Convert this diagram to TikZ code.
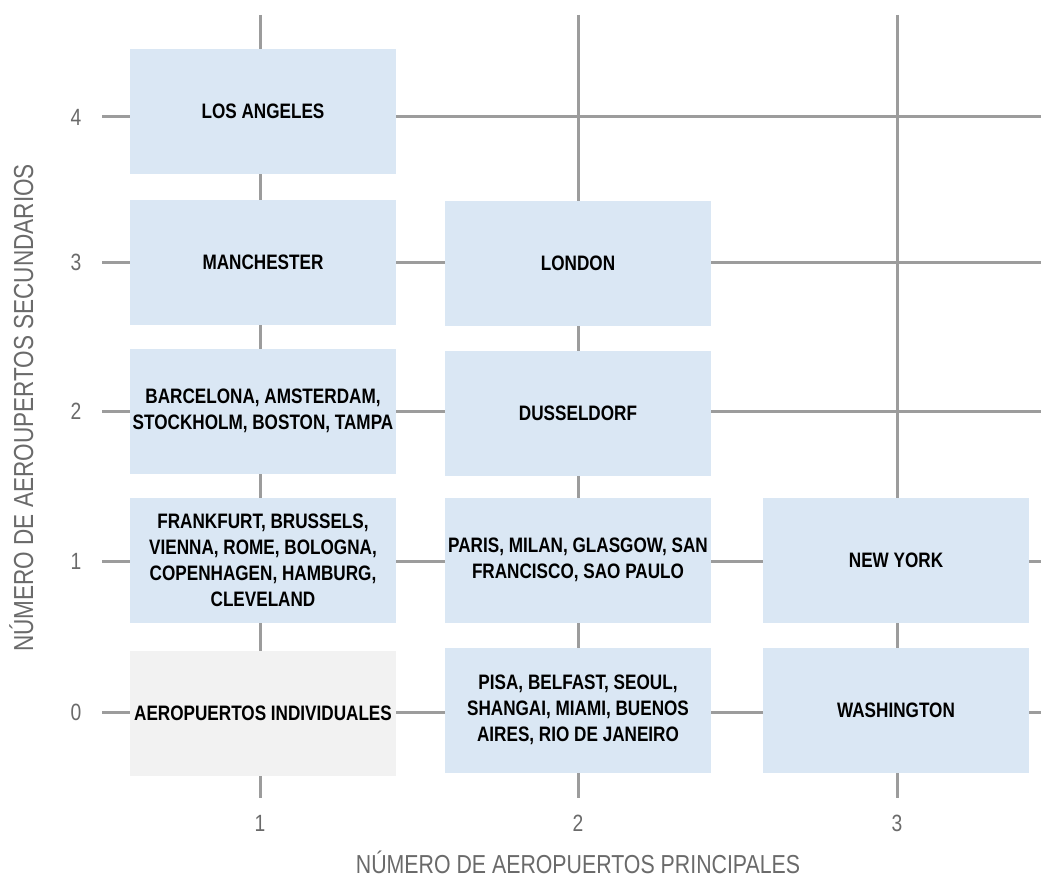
\documentclass[tikz,border=0pt]{standalone}
\usepackage{fontspec}
\setmainfont{Liberation Sans}
\newfontfamily\narrowfont[FakeStretch=0.82]{Liberation Sans}
\definecolor{boxblue}{HTML}{DAE7F4}
\definecolor{boxgray}{HTML}{F2F2F2}
\definecolor{gridgray}{HTML}{9C9C9C}
\definecolor{labelgray}{HTML}{6A6A6A}
\begin{document}
\begin{tikzpicture}[x=1pt,y=-1pt,
  cell/.style={fill=boxblue, minimum width=266pt, minimum height=125pt, inner sep=0pt, align=center,
    font=\narrowfont\bfseries\fontsize{20.9}{26}\selectfont, text=black},
  graycell/.style={cell, fill=boxgray},
  gridline/.style={draw=gridgray, line width=3pt},
  ticklabel/.style={text=labelgray, font=\narrowfont\fontsize{23.5}{26}\selectfont, inner sep=0pt},
  axistitle/.style={text=labelgray, font=\narrowfont\fontsize{26}{30}\selectfont, inner sep=0pt}]
\useasboundingbox (0,0) rectangle (1041,880);
% grid
\foreach \gx in {260,578,897} \draw[gridline] (\gx,15) -- (\gx,798);
\foreach \gy in {117,262,411,561,712} \draw[gridline] (102,\gy) -- (1041,\gy);
% tick labels
\node[ticklabel] (y4) at (76,117) {4};
\node[ticklabel] (y3) at (76,262) {3};
\node[ticklabel] (y2) at (76,411) {2};
\node[ticklabel] (y1) at (76,561) {1};
\node[ticklabel] (y0) at (76,712) {0};
\node[ticklabel] (x1) at (260,823) {1};
\node[ticklabel] (x2) at (578,823) {2};
\node[ticklabel] (x3) at (897,823) {3};
% axis titles
\node[axistitle, anchor=base] (xtitle) at (578,873) {NÚMERO DE AEROPUERTOS PRINCIPALES};
\node[axistitle, font=\narrowfont\fontsize{27.5}{30}\selectfont, rotate=90, anchor=base] (ytitle) at (33,408) {NÚMERO DE AEROUPERTOS SECUNDARIOS};
% cells
\node[cell] (la) at (263,111.5) {LOS ANGELES};
\node[cell] (man) at (263,262.5) {MANCHESTER};
\node[cell] (bcn) at (263,411) {BARCELONA, AMSTERDAM,\\STOCKHOLM, BOSTON, TAMPA};
\node[cell] (fra) at (263,560) {FRANKFURT, BRUSSELS,\\VIENNA, ROME, BOLOGNA,\\COPENHAGEN, HAMBURG,\\CLEVELAND};
\node[graycell] (ind) at (263,713.5) {AEROPUERTOS INDIVIDUALES};
\node[cell] (lon) at (578,263.5) {LONDON};
\node[cell] (dus) at (578,413) {DUSSELDORF};
\node[cell] (par) at (578,560) {PARIS, MILAN, GLASGOW, SAN\\FRANCISCO, SAO PAULO};
\node[cell] (pis) at (578,710) {PISA, BELFAST, SEOUL,\\SHANGAI, MIAMI, BUENOS\\AIRES, RIO DE JANEIRO};
\node[cell] (ny) at (896,560.5) {NEW YORK};
\node[cell] (was) at (896,710) {WASHINGTON};
\end{tikzpicture}
\end{document}
